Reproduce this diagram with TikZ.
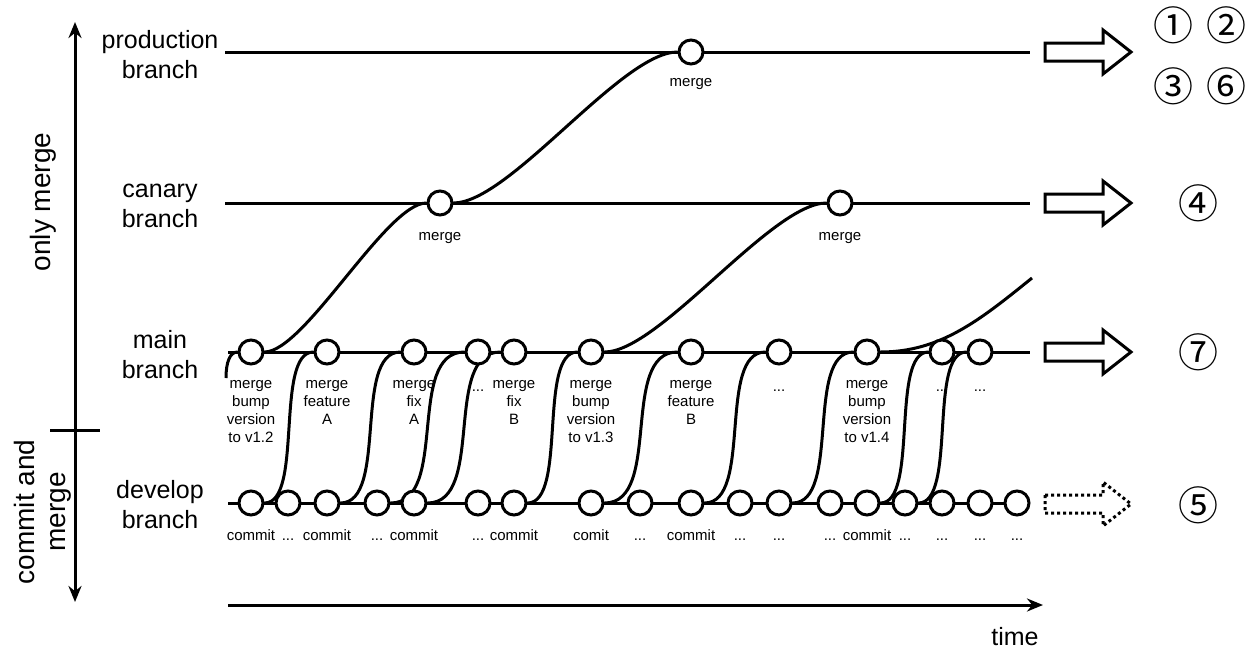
\documentclass[tikz,border=0pt]{standalone}
\usepackage{fontspec}
\setmainfont{Liberation Sans}
\newfontfamily\circfont{Noto Sans CJK JP}
\usetikzlibrary{calc,arrows.meta}
\pgfdeclarelayer{fg}
\pgfsetlayers{main,fg}
\newcommand\ddd{...}
\begin{document}
\begin{tikzpicture}[x=1pt,y=-1pt,
  br/.style={line width=3pt},
  cn/.style={circle,draw,line width=3pt,fill=white,minimum size=24pt,inner sep=0pt},
  big/.style={font=\fontsize{25}{30}\selectfont,align=center,anchor=base,inner sep=0pt},
  side/.style={font=\fontsize{28}{31}\selectfont,align=center,rotate=90,inner sep=0pt},
  sm/.style={font=\fontsize{15}{18}\selectfont,align=center,anchor=north,inner sep=0pt,execute at begin node=\rule{0pt}{11pt}},
  cmt/.style={font=\fontsize{15}{18}\selectfont,anchor=base,inner sep=0pt},
  num/.style={font=\circfont\fontsize{40}{40}\selectfont,inner sep=0pt},
  tip/.style={line width=3pt},
  blk/.style={line width=3pt,fill=white},
  dotblk/.style={line width=3pt,fill=white,dash pattern=on 3pt off 3pt}
]
\useasboundingbox (0,0) rectangle (1251,656);

% coordinates for free line ends
\coordinate (pL) at (225,52);  \coordinate (pR) at (1030,52);
\coordinate (cL) at (225,203); \coordinate (cR) at (1030,203);
\coordinate (mL) at (228,352); \coordinate (mR) at (1030,352);
\coordinate (dL) at (228,503);
\coordinate (lA) at (226,378);
\coordinate (fE) at (1032,278);
\coordinate (a0) at (75,22);  \coordinate (a1) at (75,602);
\coordinate (k0) at (50,430); \coordinate (k1) at (100,430);
\coordinate (t0) at (228,605); \coordinate (t1) at (1043,605);

% commit / merge circles
\begin{pgfonlayer}{fg}
\node[cn] (p1) at (691,52) {};
\node[cn] (c1) at (440,203) {};
\node[cn] (c2) at (840,203) {};
\foreach \i/\x in {1/251,2/327,3/414,4/478,5/514,6/591,7/691,8/779,9/867,10/942,11/980}
  \node[cn] (m\i) at (\x,352) {};
\foreach \i/\x in {1/251,2/288,3/327,4/377,5/414,6/478,7/514,8/591,9/640,10/691,11/740,12/779,13/830,14/867,15/905,16/942,17/980,18/1017}
  \node[cn] (d\i) at (\x,503) {};
\end{pgfonlayer}

% branch labels (base = baseline of last line)
\node[big] (lp) at (160,78) {production\\branch};
\node[big] (lc) at (160,227) {canary\\branch};
\node[big] (lm) at (160,378) {main\\branch};
\node[big] (ld) at (160,528) {develop\\branch};
\node[side] (om) at (43,202) {only merge};
\node[side] (cam) at (43,512) {commit and\\merge};
\node[font=\fontsize{25}{30}\selectfont,anchor=base,inner sep=0pt] (tm) at (1015,645) {time};

% merge labels
\node[cmt] (lp1) at (691,86) {merge};
\node[cmt] (lc1) at (440,240) {merge};
\node[cmt] (lc2) at (840,240) {merge};

% main labels
\node[sm] (lm1) at (251,380) {merge\\bump\\version\\to v1.2};
\node[sm] (lm2) at (327,380) {merge\\feature\\A};
\node[sm] (lm3) at (414,380) {merge\\fix\\A};
\node[sm] (lm4) at (478,380) {\ddd};
\node[sm] (lm5) at (514,380) {merge\\fix\\B};
\node[sm] (lm6) at (591,380) {merge\\bump\\version\\to v1.3};
\node[sm] (lm7) at (691,380) {merge\\feature\\B};
\node[sm] (lm8) at (779,380) {\ddd};
\node[sm] (lm9) at (867,380) {merge\\bump\\version\\to v1.4};
\node[sm] (lm10) at (942,380) {\ddd};
\node[sm] (lm11) at (980,380) {\ddd};

% develop labels
\foreach \i/\x/\t in {1/251/commit,2/288/\ddd,3/327/commit,4/377/\ddd,5/414/commit,6/478/\ddd,7/514/commit,8/591/comit,9/640/\ddd,10/691/commit,11/740/\ddd,12/779/\ddd,13/830/\ddd,14/867/commit,15/905/\ddd,16/942/\ddd,17/980/\ddd,18/1017/\ddd}
  \node[cmt] (ld\i) at (\x,540) {\t};

% branch lines
\draw[br] (pL) -- (pR);
\draw[br] (cL) -- (cR);
\draw[br] (mL) -- (mR);
\draw[br] (dL) -- (d18);

% develop -> main curves (smooth S)
\newcommand\dmcurve[2]{%
  \draw[br] let \p1=(#1.east), \p2=(#2.west) in
    (\p1) .. controls ({\x1+0.8*(\x2-\x1)},\y1) and ({\x2-0.8*(\x2-\x1)},\y2) .. (\p2);}
\dmcurve{d1}{m2}
\dmcurve{d3}{m3}
\dmcurve{d4}{m4}
\dmcurve{d5}{m5}
\dmcurve{d7}{m6}
\dmcurve{d8}{m7}
\dmcurve{d10}{m8}
\dmcurve{d12}{m9}
\dmcurve{d14}{m10}
\dmcurve{d15}{m11}

% left stub into main
\draw[br] (lA) .. controls (226,362) and (230,352) .. (m1.west);

% main -> canary -> production
\draw[br] (m1.east) .. controls +(40,0) and +(-40,0) .. (c1.west);
\draw[br] (c1.east) .. controls +(56,0) and +(-56,0) .. (p1.west);
\draw[br] (m6.east) .. controls +(55,0) and +(-55,0) .. (c2.west);
\draw[br] (m9.east) .. controls +(60,0) and +(-52,42) .. (fE);

% axes
\draw[tip,{Stealth[length=16pt,width=13pt]}-{Stealth[length=16pt,width=13pt]}] (a0) -- (a1);
\draw[br] (k0) -- (k1);
\draw[tip,-{Stealth[length=16pt,width=13pt]}] (t0) -- (t1);

% block arrows
\draw[blk] (1045,43) -- (1103,43) -- (1103,30) -- (1131,52) -- (1103,74) -- (1103,61) -- (1045,61) -- cycle;
\draw[blk] (1045,194) -- (1103,194) -- (1103,181) -- (1131,203) -- (1103,225) -- (1103,212) -- (1045,212) -- cycle;
\draw[blk] (1045,343) -- (1103,343) -- (1103,330) -- (1131,352) -- (1103,374) -- (1103,361) -- (1045,361) -- cycle;
\draw[dotblk] (1045,495) -- (1103,495) -- (1103,482) -- (1131,504) -- (1103,526) -- (1103,513) -- (1045,513) -- cycle;

% circled numbers
\node[num] (n1) at (1173,25) {①};
\node[num] (n2) at (1226,25) {②};
\node[num] (n3) at (1173,86) {③};
\node[num] (n6) at (1226,86) {⑥};
\node[num] (n4) at (1198,203) {④};
\node[num] (n7) at (1198,352) {⑦};
\node[num] (n5) at (1198,505) {⑤};
\end{tikzpicture}
\end{document}
